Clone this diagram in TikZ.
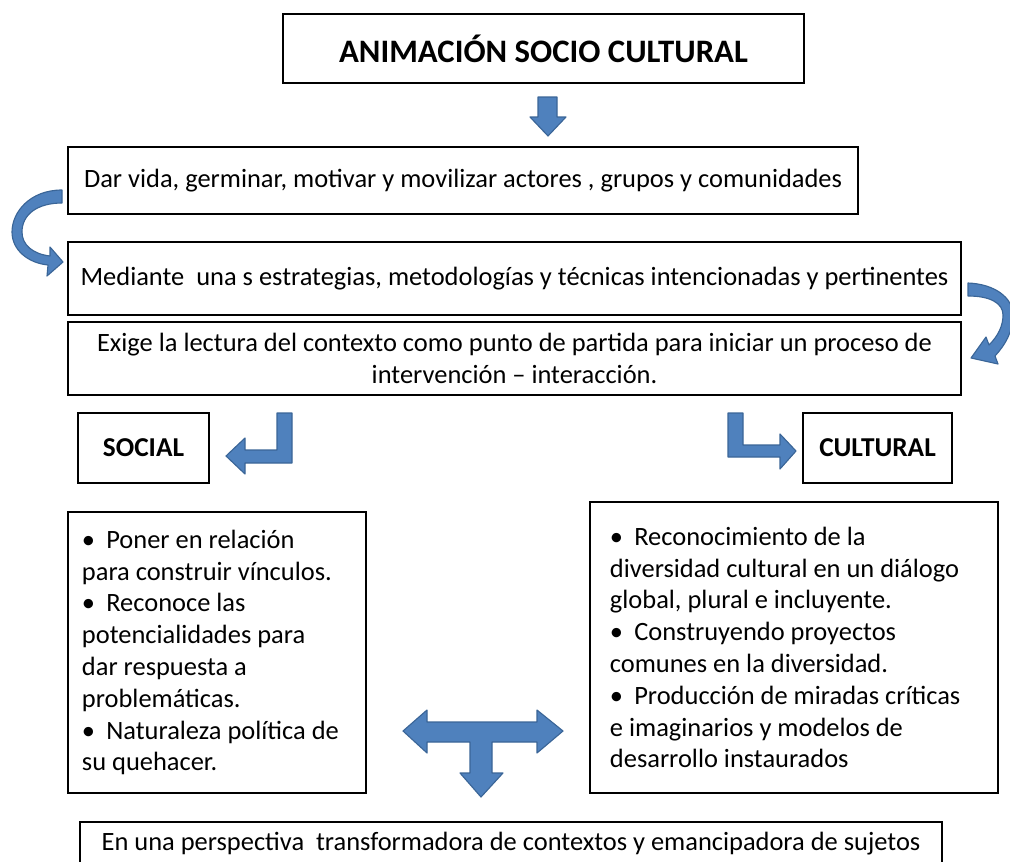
\documentclass[tikz,border=0pt]{standalone}
\usepackage{fontspec}
\setmainfont{Carlito}
\definecolor{flecha}{HTML}{4F81BD}
\definecolor{flechaborde}{HTML}{3A6597}

\newcommand{\vineta}{•\hspace{0.28cm}}

\tikzset{
  caja/.style={draw=black,line width=1.3pt,inner sep=0pt,font=\fontsize{18.8}{22.6}\selectfont},
  cajanegrita/.style={caja,font=\bfseries\fontsize{19.4}{23}\selectfont},
  flechita/.style={fill=flecha,draw=flechaborde,line width=0.8pt,line join=round}
}

\begin{document}
\begin{tikzpicture}[x=0.025cm,y=-0.025cm]
\useasboundingbox (0,0) rectangle (1010,861);

\node[caja,minimum width=13.025cm,minimum height=1.725cm,font=\bfseries\fontsize{23.3}{27}\selectfont] (titulo) at (543.5,48.5) {ANIMACIÓN SOCIO CULTURAL};
\node[caja,minimum width=19.75cm,minimum height=1.675cm] (vida) at (463,180.5) {Dar vida, germinar, motivar y movilizar actores , grupos y comunidades};
\node[caja,minimum width=22.325cm,minimum height=1.825cm] (mediante) at (514.5,278.5) {Mediante\ \ una s estrategias, metodologías y técnicas intencionadas y pertinentes};
\node[caja,minimum width=22.325cm,minimum height=1.825cm,align=center] (exige) at (514.5,358.5) {Exige la lectura del contexto como punto de partida para iniciar un proceso de\\intervención – interacción.};
\node[cajanegrita,minimum width=3.275cm,minimum height=1.75cm] (social) at (143.5,448) {SOCIAL};
\node[cajanegrita,minimum width=3.725cm,minimum height=1.75cm] (cultural) at (877.5,448) {CULTURAL};
\node[caja,minimum width=7.45cm,minimum height=7.025cm,inner xsep=0.35cm,text width=6.75cm,align=flush left] (listasocial) at (217,652.5) {%
\vineta Poner en relación\\para construir vínculos.\\\vineta Reconoce las\\potencialidades para\\dar respuesta a\\problemáticas.\\\vineta Naturaleza política de\\su quehacer.};
\node[caja,minimum width=10.2cm,minimum height=7.275cm,inner xsep=0.5cm,text width=9.2cm,align=flush left] (listacultural) at (794,647.5) {%
\vineta Reconocimiento de la\\diversidad cultural en un diálogo\\global, plural e incluyente.\\\vineta Construyendo proyectos\\comunes en la diversidad.\\\vineta Producción de miradas críticas\\e imaginarios y modelos de\\desarrollo instaurados};
\node[caja,minimum width=21.55cm,minimum height=1.1cm] (perspectiva) at (511,844) {En una perspectiva\ \ transformadora de contextos y emancipadora de sujetos};

% flecha hacia abajo
\draw[flechita] (538,97) -- (557,97) -- (557,117) -- (566,117) -- (548,136) -- (530,117) -- (538,117) -- cycle;

% flechas curvas
\draw[flechita] (62,190) .. controls (30,190) and (12,212) .. (12,232)
  .. controls (12,250) and (28,263) .. (48,265) -- (47,276) -- (63,262) -- (50,247) -- (50,256)
  .. controls (33,254) and (22,245) .. (22,232) .. controls (22,214) and (38,203) .. (62,203) -- cycle;
\draw[flechita] (968,283) .. controls (995,284) and (1013,298) .. (1013,315)
  .. controls (1013,332) and (1005,345) .. (995,356) -- (998,364) -- (971,358) -- (986,337) -- (989,345)
  .. controls (998,336) and (1003,326) .. (1003,315) .. controls (1003,303) and (990,296) .. (968,296) -- cycle;

% flechas en codo
\draw[flechita] (277,413) -- (292,413) -- (292,463) -- (245,463) -- (245,474) -- (226,456) -- (245,438) -- (245,450) -- (277,450) -- cycle;
\draw[flechita] (728,413) -- (743,413) -- (743,445) -- (780,445) -- (780,434) -- (796,451) -- (780,469) -- (780,457) -- (728,457) -- cycle;

% flecha en T
\draw[flechita] (403,731) -- (427,710) -- (427,722) -- (537,722) -- (537,710) -- (563,731) -- (537,753) -- (537,742)
  -- (492,742) -- (492,773) -- (503,773) -- (481,797) -- (460,773) -- (470,773) -- (470,742) -- (427,742) -- (427,753) -- cycle;

\end{tikzpicture}
\end{document}
